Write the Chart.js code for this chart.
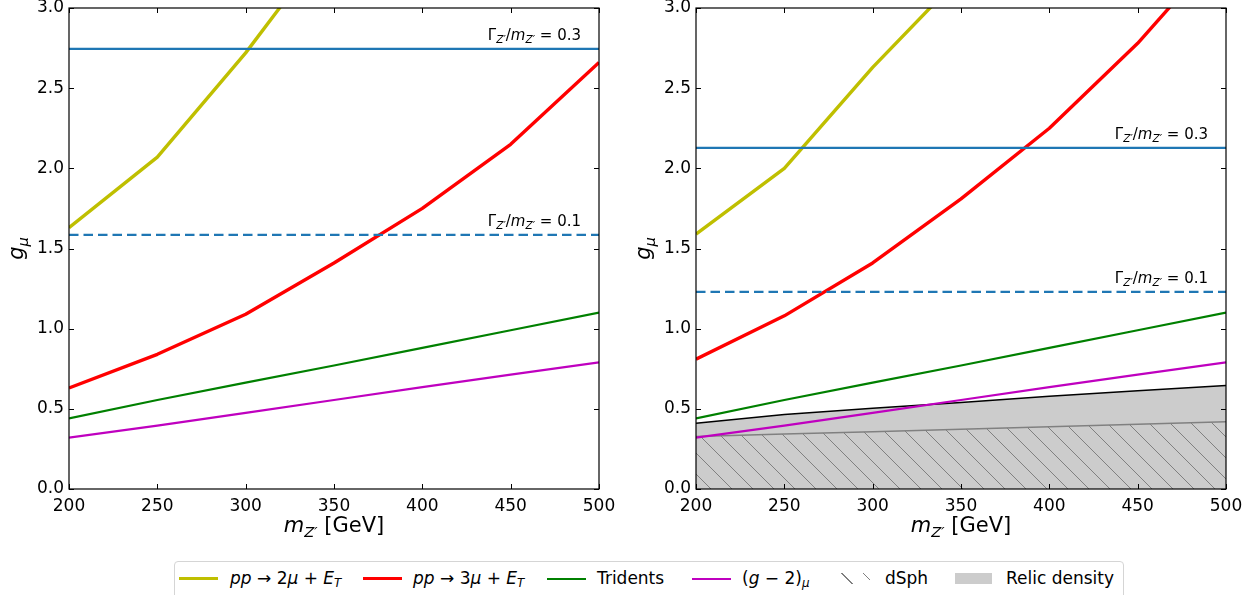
<!DOCTYPE html>
<html>
<head>
<meta charset="utf-8">
<script src="https://cdn.jsdelivr.net/npm/chart.js@4.4.1/dist/chart.umd.min.js"></script>
<style>
html, body { margin: 0; padding: 0; background: #fff; width: 1260px; height: 595px; overflow: hidden; font-family: 'DejaVu Sans', sans-serif; }
canvas { position: absolute; top: -12px; }
#legend { position: absolute; left: 174px; top: 561px; width: 948px; height: 44px; border: 1px solid #d5d5d5; border-radius: 4px; background: #fff; }
#legend .sw { position: absolute; }
#legend .tx { position: absolute; top: 0; height: 32px; line-height: 32px; font-size: 17px; white-space: nowrap; color: #000; }
#legend sub { font-size: 70%; vertical-align: -0.25em; line-height: 0; }
</style>
</head>
<body>
<canvas id="left" width="630" height="560" style="left:0px"></canvas>
<canvas id="right" width="630" height="560" style="left:630px"></canvas>

<div id="legend">
  <span class="sw" style="left:4px;top:15px;width:39px;height:3px;background:#bfbf00"></span>
  <span class="tx" style="left:55px"><i>pp</i> → 2<i>μ</i> + <i>E</i><sub><i>T</i></sub></span>
  <span class="sw" style="left:188px;top:15px;width:39px;height:3px;background:#ff0000"></span>
  <span class="tx" style="left:238px"><i>pp</i> → 3<i>μ</i> + <i>E</i><sub><i>T</i></sub></span>
  <span class="sw" style="left:372px;top:15.5px;width:39px;height:2px;background:#008000"></span>
  <span class="tx" style="left:422px">Tridents</span>
  <span class="sw" style="left:517px;top:15.5px;width:39px;height:2px;background:#bf00bf"></span>
  <span class="tx" style="left:567px">(<i>g</i> − 2)<sub><i>μ</i></sub></span>
  <span class="sw" style="left:657px;top:11px;width:38px;height:11px;background:repeating-linear-gradient(45deg, transparent 0 14px, #808080 14px 15px)"></span>
  <span class="tx" style="left:710px">dSph</span>
  <span class="sw" style="left:780px;top:11px;width:37px;height:11px;background:#cccccc"></span>
  <span class="tx" style="left:831px">Relic density</span>
</div>

<script>
// Data ---------------------------------------------------------------------------------

var MASS = [200, 250, 300, 350, 400, 450, 500];

var PP2MU_LEFT = [1.63, 2.07, 2.72, 3.45];
var PP3MU_LEFT = [0.63, 0.84, 1.09, 1.41, 1.75, 2.15, 2.66];
var PP2MU_RIGHT = [1.59, 2.00, 2.63, 3.20];
var PP3MU_RIGHT = [0.81, 1.08, 1.41, 1.81, 2.25, 2.78, 3.40];
var TRIDENTS = [0.44, 0.555, 0.663, 0.77, 0.88, 0.99, 1.10];
var GM2 = [0.32, 0.395, 0.475, 0.555, 0.635, 0.713, 0.79];
var RELIC = [0.41, 0.465, 0.503, 0.54, 0.578, 0.613, 0.645];
var DSPH = [0.327, 0.343, 0.357, 0.372, 0.389, 0.404, 0.42];

var WIDTH_RATIOS = ['0.3', '0.1'];
var WIDTH_LEFT = [2.745, 1.585];
var WIDTH_RIGHT = [2.127, 1.229];

var X_TICKS = [200, 250, 300, 350, 400, 450, 500];
var Y_TICKS = [0, 0.5, 1, 1.5, 2, 2.5, 3];

// Style --------------------------------------------------------------------------------

var FONT = 'DejaVu Sans';
var TICK_LEN = 5;
var BLUE = '#1f77b4';

Chart.defaults.font.family = FONT;
Chart.defaults.color = '#000';

// Helpers ------------------------------------------------------------------------------

function pts(ys) {
    return ys.map(function (y, i) { return {x: MASS[i], y: y}; });
}

function hline(y) {
    return [{x: MASS[0], y: y}, {x: MASS[MASS.length - 1], y: y}];
}

function lineSet(data, color, width, dash) {
    return {
        data: data,
        borderColor: color,
        borderWidth: width,
        borderDash: dash || [],
        borderJoinStyle: 'round',
        pointRadius: 0,
        fill: false,
        tension: 0,
        clip: 0
    };
}

function makeHatch(ctx, step, color) {
    var c = document.createElement('canvas');
    c.width = step;
    c.height = step;
    var g = c.getContext('2d');
    g.strokeStyle = color;
    g.lineWidth = 1;
    for (var k = -1; k <= 1; k++) {
        g.beginPath();
        g.moveTo(k * step, 0);
        g.lineTo(k * step + step, step);
        g.stroke();
    }
    return ctx.createPattern(c, 'repeat');
}

// segs: [text, italic, subscript]
function drawRich(ctx, segs, x, y, size, align) {
    var total = 0;
    var fonts = segs.map(function (s) {
        var sz = s[2] ? size * 0.7 : size;
        var f = (s[1] ? 'italic ' : '') + sz + 'px "' + FONT + '"';
        ctx.font = f;
        var w = ctx.measureText(s[0]).width;
        total += w;
        return {font: f, w: w};
    });
    var cx = align === 'right' ? x - total : (align === 'center' ? x - total / 2 : x);
    ctx.textAlign = 'left';
    ctx.textBaseline = 'alphabetic';
    segs.forEach(function (s, i) {
        ctx.font = fonts[i].font;
        ctx.fillText(s[0], cx, y + (s[2] ? size * 0.22 : 0));
        cx += fonts[i].w;
    });
}

function ratioLabel(val) {
    return [['Γ', 0, 0], ['Z′', 1, 1], ['/', 0, 0], ['m', 1, 0], ['Z′', 1, 1], [' = ' + val, 0, 0]];
}

// Frame, inward ticks, axis titles and width annotations
var decor = {
    id: 'decor',
    afterDraw: function (chart, args, opts) {
        var ctx = chart.ctx;
        var a = chart.chartArea;
        var xs = chart.scales.x;
        var ys = chart.scales.y;
        ctx.save();
        ctx.fillStyle = '#000';

        ctx.strokeStyle = '#000';
        ctx.lineWidth = 1;
        ctx.beginPath();
        X_TICKS.forEach(function (v) {
            var px = Math.round(xs.getPixelForValue(v)) + 0.5;
            ctx.moveTo(px, a.bottom); ctx.lineTo(px, a.bottom - TICK_LEN);
            ctx.moveTo(px, a.top); ctx.lineTo(px, a.top + TICK_LEN);
        });
        Y_TICKS.forEach(function (v) {
            var py = Math.round(ys.getPixelForValue(v)) + 0.5;
            ctx.moveTo(a.left, py); ctx.lineTo(a.left + TICK_LEN, py);
            ctx.moveTo(a.right, py); ctx.lineTo(a.right - TICK_LEN, py);
        });
        ctx.stroke();

        ctx.lineWidth = 1.2;
        ctx.strokeRect(a.left, a.top, a.right - a.left, a.bottom - a.top);

        opts.levels.forEach(function (lv, i) {
            var py = ys.getPixelForValue(lv);
            drawRich(ctx, ratioLabel(WIDTH_RATIOS[i]), a.right - 18, py - 9, 15, 'right');
        });

        drawRich(ctx, [['m', 1, 0], ['Z′', 1, 1], [' [GeV]', 0, 0]],
            (a.left + a.right) / 2, a.bottom + 43, 21, 'center');

        ctx.translate(a.left - 46, (a.top + a.bottom) / 2);
        ctx.rotate(-Math.PI / 2);
        drawRich(ctx, [['g', 1, 0], ['μ', 1, 1]], 0, 0, 21, 'center');
        ctx.restore();
    }
};

function makeChart(id, datasets, axisWidth, padRight, levels) {
    return new Chart(document.getElementById(id), {
        type: 'line',
        data: {datasets: datasets},
        options: {
            responsive: false,
            animation: false,
            events: [],
            layout: {padding: {top: 20, right: padRight, bottom: 0, left: 0}},
            plugins: {
                legend: {display: false},
                tooltip: {enabled: false},
                decor: {levels: levels}
            },
            scales: {
                x: {
                    type: 'linear', min: 200, max: 500,
                    grid: {display: false, drawTicks: false},
                    border: {display: false},
                    afterBuildTicks: function (s) { s.ticks = X_TICKS.map(function (v) { return {value: v}; }); },
                    afterFit: function (s) { s.height = 59; },
                    ticks: {padding: 7, font: {size: 17}, color: '#000', maxRotation: 0, autoSkip: false}
                },
                y: {
                    type: 'linear', min: 0, max: 3,
                    grid: {display: false, drawTicks: false},
                    border: {display: false},
                    afterBuildTicks: function (s) { s.ticks = Y_TICKS.map(function (v) { return {value: v}; }); },
                    afterFit: function (s) { s.width = axisWidth; },
                    ticks: {
                        padding: 5, font: {size: 17}, color: '#000', autoSkip: false,
                        callback: function (v) { return Number(v).toFixed(1); }
                    }
                }
            }
        },
        plugins: [decor]
    });
}

// Panels -------------------------------------------------------------------------------

var leftDatasets = [
    lineSet(hline(WIDTH_LEFT[0]), BLUE, 2.2),
    lineSet(hline(WIDTH_LEFT[1]), BLUE, 2.2, [9.5, 5]),
    lineSet(pts(PP3MU_LEFT), '#ff0000', 3.4),
    lineSet(pts(PP2MU_LEFT), '#bfbf00', 3.4),
    lineSet(pts(TRIDENTS), '#008000', 2.2),
    lineSet(pts(GM2), '#bf00bf', 2.2)
];

var rightCtx = document.getElementById('right').getContext('2d');

var dsphSet = lineSet(pts(DSPH), '#808080', 1.5);
dsphSet.fill = 'origin';
dsphSet.backgroundColor = makeHatch(rightCtx, 21, '#808080');

var relicSet = lineSet(pts(RELIC), '#000000', 1.5);
relicSet.fill = 'origin';
relicSet.backgroundColor = '#cccccc';

var rightDatasets = [
    lineSet(hline(WIDTH_RIGHT[0]), BLUE, 2.2),
    lineSet(hline(WIDTH_RIGHT[1]), BLUE, 2.2, [9.5, 5]),
    lineSet(pts(PP3MU_RIGHT), '#ff0000', 3.4),
    lineSet(pts(PP2MU_RIGHT), '#bfbf00', 3.4),
    lineSet(pts(TRIDENTS), '#008000', 2.2),
    lineSet(pts(GM2), '#bf00bf', 2.2),
    dsphSet,
    relicSet
];

makeChart('left', leftDatasets, 69, 31, WIDTH_LEFT);
makeChart('right', rightDatasets, 66, 34, WIDTH_RIGHT);
</script>
</body>
</html>
